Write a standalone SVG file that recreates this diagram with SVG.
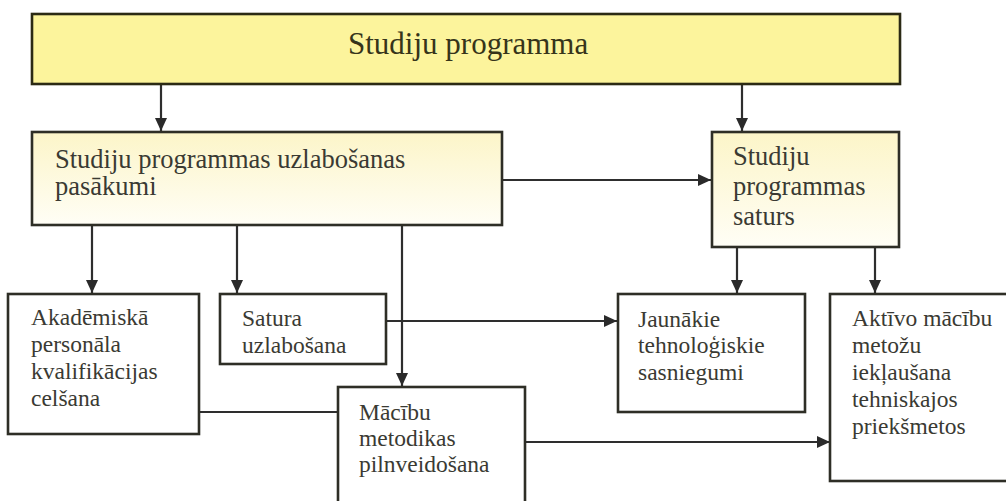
<svg xmlns="http://www.w3.org/2000/svg" width="1006" height="501" viewBox="0 0 1006 501">
  <style>
    .box { stroke: #2e2e26; stroke-width: 2.6; }
    .plain { fill: #ffffff; }
    .top { fill: #fcf49c; stroke: #2b2a14; }
    .soft { fill: url(#paleYellow); }
    .lbl { font-family: "Liberation Serif", "Times New Roman", serif; fill: #3a3a33; }
    .big { font-size: 31px; fill: #36341a; }
    .mid { font-size: 26.5px; }
    .small { font-size: 23.5px; }
    .wire { fill: none; stroke: #2e2e2e; stroke-width: 2.2; }
  </style>
  <defs>
    <linearGradient id="paleYellow" x1="0" y1="0" x2="0" y2="1">
      <stop offset="0" stop-color="#fcf5c8"/>
      <stop offset="1" stop-color="#fffef6"/>
    </linearGradient>
    <marker id="head" markerUnits="userSpaceOnUse" markerWidth="14" markerHeight="12" refX="13" refY="6" orient="auto">
      <path d="M0,0 L13,6 L0,12 Z" fill="#2a2a2a"/>
    </marker>
  </defs>

  <rect width="1006" height="501" fill="#ffffff"/>

  <!-- connectors -->
  <g id="connectors">
    <line class="wire" x1="161" y1="84" x2="161" y2="131" marker-end="url(#head)"/>
    <line class="wire" x1="742" y1="84" x2="742" y2="131" marker-end="url(#head)"/>
    <line class="wire" x1="502" y1="180" x2="711" y2="180" marker-end="url(#head)"/>
    <line class="wire" x1="92" y1="225" x2="92" y2="293" marker-end="url(#head)"/>
    <line class="wire" x1="237" y1="225" x2="237" y2="293" marker-end="url(#head)"/>
    <line class="wire" x1="402" y1="225" x2="402" y2="386" marker-end="url(#head)"/>
    <line class="wire" x1="737" y1="247" x2="737" y2="293" marker-end="url(#head)"/>
    <line class="wire" x1="875" y1="247" x2="875" y2="293" marker-end="url(#head)"/>
    <line class="wire" x1="386" y1="321" x2="617" y2="321" marker-end="url(#head)"/>
    <line class="wire" x1="199" y1="412" x2="337" y2="412"/>
    <line class="wire" x1="525" y1="442" x2="830" y2="442" marker-end="url(#head)"/>
  </g>

  <!-- nodes -->
  <g id="studiju-programma">
    <rect class="box top" x="32" y="14" width="868" height="70"/>
    <text class="lbl big" x="348" y="54">Studiju programma</text>
  </g>

  <g id="uzlabosanas-pasakumi">
    <rect class="box soft" x="32" y="132" width="470" height="93"/>
    <text class="lbl mid" x="55" y="168">Studiju programmas uzlabošanas</text>
    <text class="lbl mid" x="55" y="195">pasākumi</text>
  </g>

  <g id="programmas-saturs">
    <rect class="box soft" x="712" y="132" width="187" height="115"/>
    <text class="lbl mid" x="733" y="165">Studiju</text>
    <text class="lbl mid" x="733" y="195">programmas</text>
    <text class="lbl mid" x="733" y="225">saturs</text>
  </g>

  <g id="akademiska-personala">
    <rect class="box plain" x="8" y="294" width="191" height="140"/>
    <text class="lbl small" x="31" y="325">Akadēmiskā</text>
    <text class="lbl small" x="31" y="352">personāla</text>
    <text class="lbl small" x="31" y="379">kvalifikācijas</text>
    <text class="lbl small" x="31" y="406">celšana</text>
  </g>

  <g id="satura-uzlabosana">
    <rect class="box plain" x="220" y="294" width="166" height="70"/>
    <text class="lbl small" x="242" y="326">Satura</text>
    <text class="lbl small" x="242" y="353">uzlabošana</text>
  </g>

  <g id="macibu-metodikas">
    <rect class="box plain" x="338" y="387" width="187" height="125"/>
    <text class="lbl small" x="359" y="420">Mācību</text>
    <text class="lbl small" x="359" y="446">metodikas</text>
    <text class="lbl small" x="359" y="472">pilnveidošana</text>
  </g>

  <g id="jaunakie-sasniegumi">
    <rect class="box plain" x="618" y="294" width="187" height="118"/>
    <text class="lbl small" x="638" y="327">Jaunākie</text>
    <text class="lbl small" x="638" y="353">tehnoloģiskie</text>
    <text class="lbl small" x="638" y="380">sasniegumi</text>
  </g>

  <g id="aktivo-metodes">
    <rect class="box plain" x="830" y="294" width="190" height="187"/>
    <text class="lbl small" x="852" y="326">Aktīvo mācību</text>
    <text class="lbl small" x="852" y="353">metožu</text>
    <text class="lbl small" x="852" y="380">iekļaušana</text>
    <text class="lbl small" x="852" y="407">tehniskajos</text>
    <text class="lbl small" x="852" y="434">priekšmetos</text>
  </g>
</svg>
